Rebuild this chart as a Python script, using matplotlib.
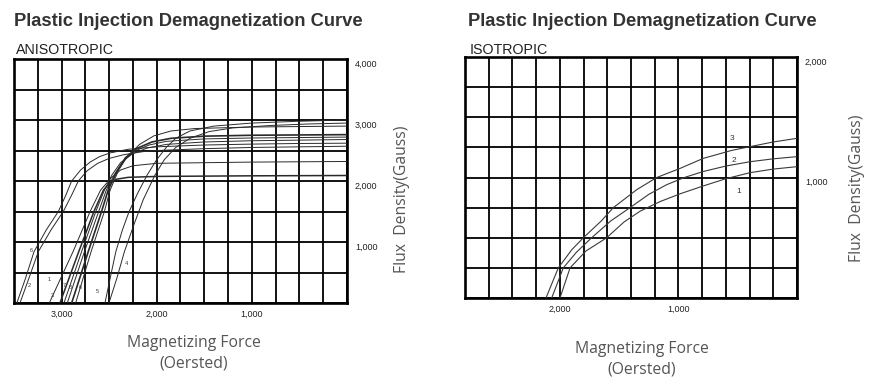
import matplotlib
matplotlib.use("Agg")
import matplotlib.pyplot as plt
from matplotlib.ticker import MultipleLocator

# ---------------- data ----------------
title = "Plastic Injection Demagnetization Curve"
left_subtitle = "ANISOTROPIC"
right_subtitle = "ISOTROPIC"
x_label = "Magnetizing Force\n(Oersted)"
y_label = "Flux  Density(Gauss)"

# Anisotropic curves: H (Oe), B (G)
aniso_H = [
    [3470, 3380, 3290, 3160, 3034, 2960, 2894, 2800, 2700, 2600, 2490, 2300, 2000, 1500, 1000, 500, 0],
    [3437, 3340, 3245, 3110, 2982, 2900, 2824, 2730, 2620, 2500, 2350, 2150, 2000, 1500, 1000, 500, 0],
    [3129, 2880, 2700, 2590, 2480, 2380, 2250, 2000, 1000, 0],
    [3017, 2820, 2660, 2560, 2500, 2420, 2300, 2000, 1000, 0],
    [2975, 2790, 2640, 2550, 2470, 2380, 2250, 2100, 1900, 1500, 1000, 0],
    [2940, 2760, 2610, 2530, 2440, 2350, 2230, 2080, 1900, 1500, 1000, 0],
    [2894, 2720, 2580, 2510, 2420, 2330, 2200, 2050, 1850, 1500, 1000, 0],
    [2852, 2690, 2550, 2490, 2400, 2300, 2180, 2030, 1850, 1600, 1000, 0],
    [2544, 2490, 2430, 2360, 2290, 2200, 2100, 2000, 1900, 1800, 1650, 1400, 1000, 500, 0],
    [2502, 2420, 2340, 2236, 2140, 2018, 1920, 1800, 1650, 1450, 1200, 800, 400, 0],
]
aniso_B = [
    [0, 400, 840, 1200, 1500, 1750, 2000, 2180, 2310, 2400, 2460, 2520, 2560, 2590, 2605, 2615, 2620],
    [0, 420, 840, 1200, 1500, 1750, 2000, 2170, 2290, 2370, 2430, 2480, 2500, 2530, 2550, 2560, 2570],
    [0, 840, 1500, 1850, 2050, 2180, 2250, 2290, 2310, 2320],
    [0, 840, 1500, 1850, 1960, 2030, 2060, 2075, 2085, 2090],
    [0, 840, 1500, 1850, 2100, 2300, 2450, 2540, 2600, 2640, 2660, 2680],
    [0, 840, 1500, 1850, 2120, 2330, 2490, 2590, 2650, 2690, 2705, 2720],
    [0, 840, 1500, 1850, 2150, 2380, 2540, 2640, 2700, 2735, 2750, 2760],
    [0, 840, 1500, 1850, 2180, 2420, 2600, 2740, 2820, 2860, 2885, 2900],
    [0, 400, 840, 1200, 1500, 1800, 2100, 2350, 2550, 2700, 2820, 2900, 2950, 2980, 3000],
    [0, 400, 840, 1300, 1700, 2098, 2350, 2550, 2700, 2810, 2870, 2910, 2935, 2950],
]
aniso_widths = [0.7, 0.7, 0.7, 1.1, 0.7, 0.7, 1.2, 0.7, 0.7, 0.7]
aniso_labels = ["6", "2", "1", "3", "7", "8", "6", "5", "4"]
aniso_label_H = [3314, 3339, 3129, 3093, 2975, 2911, 2806, 2624, 2316]
aniso_label_B = [857, 279, 388, 131, 279, 257, 257, 185, 651]

# Isotropic curves
iso_H = [
    [1999, 1914, 1780, 1605, 1460, 1324, 1155, 985, 790, 600, 396, 200, 0],
    [2069, 1971, 1860, 1732, 1570, 1408, 1250, 1100, 950, 790, 600, 396, 200, 0],
    [2117, 2013, 1900, 1802, 1650, 1549, 1350, 1183, 985, 790, 550, 396, 200, 0],
]
iso_B = [
    [0, 250, 390, 500, 630, 720, 800, 865, 930, 990, 1040, 1070, 1090],
    [0, 250, 380, 500, 640, 750, 860, 940, 1000, 1050, 1095, 1131, 1155, 1173],
    [0, 250, 400, 500, 640, 750, 900, 1000, 1076, 1159, 1225, 1256, 1295, 1325],
]
iso_labels = ["1", "2", "3"]
iso_label_H = [495, 531, 551]
iso_label_B = [882, 1145, 1325]

aniso_xticks = [3000, 2000, 1000]
aniso_yticks = [1000, 2000, 3000, 4000]
iso_xticks = [2000, 1000]
iso_yticks = [1000, 2000]

# ---------------- figure ----------------
W, H = 879, 379
fig = plt.figure(figsize=(W / 100, H / 100), dpi=100)
fig.patch.set_facecolor("white")

def px_axes(x0, y0, x1, y1):
    return fig.add_axes([x0 / W, 1 - y1 / H, (x1 - x0) / W, (y1 - y0) / H])

FONT = "Liberation Sans"
LABEL_FONT = "Open Sans"

def setup(ax, xmax, xstep, ymax, ystep, xt, yt):
    ax.set_xlim(xmax, 0)
    ax.set_ylim(0, ymax)
    ax.xaxis.set_major_locator(MultipleLocator(xstep))
    ax.yaxis.set_major_locator(MultipleLocator(ystep))
    ax.grid(True, color="black", linewidth=1.3)
    ax.tick_params(length=0, labelbottom=False, labelleft=False)
    for s in ax.spines.values():
        s.set_linewidth(1.9)
        s.set_color("black")
    ax.set_axisbelow(False)
    for v in xt:
        ax.annotate(f"{v:,}", xy=(v, 0), xycoords=("data", "axes fraction"),
                    xytext=(0, -11), textcoords="offset pixels",
                    ha="center", va="center", fontsize=6.5, family=FONT,
                    color="#222")
    for v in yt:
        ax.annotate(f"{v:,}", xy=(1, v), xycoords=("axes fraction", "data"),
                    xytext=(8, -5), textcoords="offset pixels",
                    ha="left", va="center", fontsize=6.5, family=FONT,
                    color="#222")

# Left axes
axL = px_axes(14, 59, 347, 303)
setup(axL, 3500, 250, 4000, 500, aniso_xticks, aniso_yticks)
for hs, bs, lw in zip(aniso_H, aniso_B, aniso_widths):
    axL.plot(hs, bs, color="#2a2a2a", linewidth=lw, zorder=3)
for t, hx, by in zip(aniso_labels, aniso_label_H, aniso_label_B):
    axL.text(hx, by, t, fontsize=4, color="#333", ha="center", va="center",
             family=FONT, zorder=4)

# Right axes
axR = px_axes(465, 57, 797, 298)
setup(axR, 2800, 200, 2000, 250, iso_xticks, iso_yticks)
for hs, bs in zip(iso_H, iso_B):
    axR.plot(hs, bs, color="#3a3a3a", linewidth=0.8, zorder=3)
for t, hx, by in zip(iso_labels, iso_label_H, iso_label_B):
    axR.text(hx, by, t, fontsize=6, color="#333", ha="center", va="center",
             family=FONT, zorder=4)

# Titles
for x0, sub in [(14, left_subtitle), (468, right_subtitle)]:
    fig.text(x0 / W, 1 - 22 / H, title, fontsize=13.2, fontweight="bold",
             family=FONT, color="#333", ha="left", va="center")
    fig.text((x0 + 2) / W, 1 - 50 / H, sub, fontsize=10.3, family=FONT,
             color="#222", ha="left", va="center")

# Axis labels
for xc, yc in [(194, 353), (642, 359)]:
    fig.text(xc / W, 1 - yc / H, x_label, fontsize=11.3, family=LABEL_FONT,
             color="#555", ha="center", va="center", linespacing=1.4)
for xc, yc in [(402, 199), (857, 188)]:
    fig.text(xc / W, 1 - yc / H, y_label, fontsize=11.3, family=LABEL_FONT,
             color="#555", ha="center", va="center", rotation=90)

fig.savefig("out.png", dpi=100, facecolor="white")
